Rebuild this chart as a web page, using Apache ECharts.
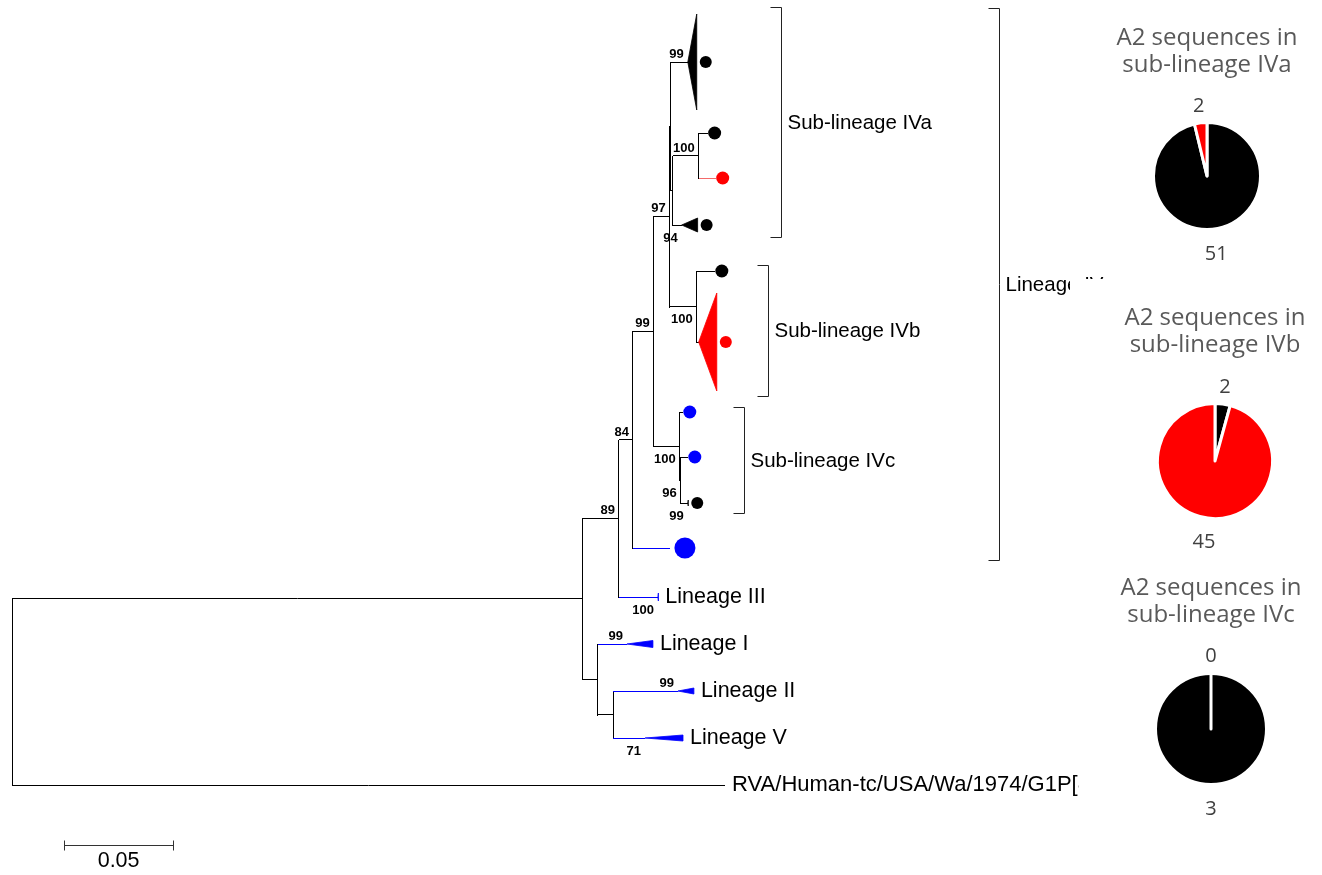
<!DOCTYPE html>
<html><head><meta charset="utf-8">
<script src="https://cdn.jsdelivr.net/npm/echarts@6/dist/echarts.min.js"></script>
<style>html,body{margin:0;padding:0;background:#fff}#c{width:1322px;height:875px}</style>
</head><body><div id="c"></div>
<script>
// ---------------- tree data (branch lengths in substitutions/site, tip rows) ----------------
// node index:      0     1      2      3      4      5      6      7      8      9      10     11     12     13     14     15     16     17     18     19     20     21     22     23     24     25     26     27     28
const nodeParent = [-1,    0,     0,     1,     3,     3,     5,     5,     7,     8,     8,     10,    10,    7,     13,    14,    14,    16,    17,    17,    16,    13,    21,    21,    1,     24,    24,    26,    26];
const branchLength=[0, 0.2619,0.3271,0.0165,0.0179,0.0064,0.0170,0.0096,0.0119,0.0014,0.0005,0.0032,0.0032,0.0073,0.0005,0.0078,0.0009,0.0119,0.0041,0.0078,0.0041,0.0124,0.0083,0.0009,0.0069,0.0133,0.0069,0.0298,0.0147];
const tipRow = {2:785, 4:597, 6:548, 9:412, 11:457, 12:503, 15:62, 18:133, 19:178, 20:225, 22:271, 23:342, 25:644, 27:691, 28:738};
const bootstrap = {3:89, 4:100, 5:84, 7:99, 8:100, 10:96, 12:99, 13:97, 15:99, 17:100, 20:94, 21:100, 25:99, 27:99, 28:71};
const bootBelow = [4, 8, 10, 12, 20, 21, 28];
const tipLabel = {2:'RVA/Human-tc/USA/Wa/1974/G1P[8]', 4:'Lineage III', 25:'Lineage I', 27:'Lineage II', 28:'Lineage V'};
// collapsed clades: depth (subst/site) and half height (rows)
const cladeDepth = {4:0.0002, 12:0.0002, 15:0.0041, 20:0.0073, 23:0.0083, 25:0.0119, 27:0.0073, 28:0.0174};
const cladeHalf  = {4:4, 12:3, 15:48, 20:7, 23:49, 25:3.5, 27:3, 28:3};
const branchColour = {4:'b', 6:'b', 25:'b', 27:'b', 28:'b', 19:'p'};
const cladeColour = {4:'b', 12:'k', 15:'k', 20:'k', 23:'r', 25:'b', 27:'b', 28:'b'};
const dotColour = {6:'b', 9:'b', 11:'b', 12:'k', 15:'k', 18:'k', 19:'r', 20:'k', 22:'k', 23:'r'};
const dotSize = {6:21, 9:13, 11:13, 12:12, 15:12, 18:13, 19:13, 20:12, 22:13, 23:12};
// annotation brackets
const bracketNames = ['Sub-lineage IVa', 'Sub-lineage IVb', 'Sub-lineage IVc', 'Lineage IV'];
const bracketX = [0.3532, 0.3468, 0.3362, 0.4532];
const bracketTop = [7, 265, 407, 8];
const bracketBottom = [237, 396, 513, 560];
const scaleBarValue = 0.05;
// ---------------- pie data ----------------
const pieNames = ['sub-lineage IVa', 'sub-lineage IVb', 'sub-lineage IVc'];
const pieBlack = [51, 2, 3];
const pieRed = [2, 45, 0];

const COL = {k:'#000000', b:'#0000ff', r:'#ff0000', p:'#f46a6a'};
const TEXTFONT = '"Liberation Sans", Arial, sans-serif';
const PIEFONT = '"Open Sans", sans-serif';

// ---------------- layout of tree ----------------
const N = nodeParent.length;
const nodeX = new Array(N).fill(0);
for (let i = 1; i < N; i++) nodeX[i] = nodeX[nodeParent[i]] + branchLength[i];
const children = Array.from({length: N}, () => []);
for (let i = 1; i < N; i++) children[nodeParent[i]].push(i);
const nodeY = new Array(N);
function yOf(i) {
  if (tipRow[i] != null) return (nodeY[i] = tipRow[i]);
  const ys = children[i].map(yOf);
  return (nodeY[i] = (Math.min(...ys) + Math.max(...ys)) / 2);
}
yOf(0);

const segs = [], segCol = [];
for (let i = 0; i < N; i++) {
  if (children[i].length) {
    const ys = children[i].map(c => nodeY[c]);
    segs.push([nodeX[i], Math.min(...ys), nodeX[i], Math.max(...ys)]);
    segCol.push('k');
  }
}
for (let i = 1; i < N; i++) {
  segs.push([nodeX[nodeParent[i]], nodeY[i], nodeX[i], nodeY[i]]);
  segCol.push(branchColour[i] || 'k');
}
const cladeIds = Object.keys(cladeDepth).map(Number);
const cladeData = cladeIds.map(i => [nodeX[i], nodeY[i], nodeX[i] + cladeDepth[i], cladeHalf[i]]);
const dotIds = Object.keys(dotColour).map(Number);
const dotData = dotIds.map(i => [nodeX[i] + (cladeDepth[i] || 0), nodeY[i]]);
const bootIds = Object.keys(bootstrap).map(Number);
const bootData = bootIds.map(i => [nodeX[i], nodeY[i]]);
const tipIds = Object.keys(tipLabel).map(Number);
const tipData = tipIds.map(i => [nodeX[i] + (cladeDepth[i] || 0), nodeY[i]]);
const bracketData = bracketX.map((x, k) => [x, bracketTop[k], bracketBottom[k]]);

const cr = v => Math.round(v - 0.5) + 0.5;

const chart = echarts.init(document.getElementById('c'), null, {renderer: 'canvas'});

const pieCenters = [[1207, 176], [1215, 461], [1211, 729]];
const pieRadius = [53.5, 57.5, 55.5];
const titleY = [52, 332, 602];

const pieSeries = pieNames.map((nm, k) => {
  const vals = [pieBlack[k], pieRed[k]];
  const big = vals[0] >= vals[1] ? 0 : 1;
  return {
    type: 'pie', name: nm, center: pieCenters[k], radius: pieRadius[k],
    startAngle: 90, clockwise: true, avoidLabelOverlap: false, silent: true, animation: false,
    minShowLabelAngle: 0, stillShowZeroSum: true, z: 4,
    itemStyle: {borderColor: '#ffffff', borderWidth: 3},
    label: {show: true, position: 'outside', formatter: '{c}', color: '#404040', fontSize: 20,
            fontFamily: PIEFONT, distanceToLabelLine: 0},
    labelLine: {show: false, length2: 0},
    labelLayout: {align: 'center'},
    data: vals.map((v, j) => ({
      value: v, name: j === 0 ? 'black' : 'red',
      itemStyle: {color: j === 0 ? '#000000' : '#ff0000'},
      labelLine: {show: false, length: j === big ? 25 : 17, length2: 0}
    }))
  };
});

const option = {
  animation: false,
  backgroundColor: '#ffffff',
  grid: {left: 12, top: 0, width: 1090, height: 875, show: false},
  xAxis: {type: 'value', min: 0, max: 0.5, show: false},
  yAxis: {type: 'value', min: 0, max: 875, inverse: true, show: false},
  graphic: {elements: [
    {type: 'rect', z: 10, shape: {x: 1070, y: 279, width: 60, height: 22}, style: {fill: '#ffffff'}},
    {type: 'rect', z: 10, shape: {x: 1079, y: 770, width: 60, height: 30}, style: {fill: '#ffffff'}}
  ].concat(pieNames.map((nm, k) => ({
    type: 'text', z: 12, x: pieCenters[k][0], y: titleY[k],
    style: {text: 'A2 sequences in\n' + nm, fill: '#595959', fontSize: 24, fontFamily: PIEFONT,
            lineHeight: 27, align: 'center', verticalAlign: 'middle'}
  })))},
  series: [
    { // branches
      type: 'custom', coordinateSystem: 'cartesian2d', silent: true, data: segs,
      renderItem(params, api) {
        const p1 = api.coord([api.value(0), api.value(1)]);
        const p2 = api.coord([api.value(2), api.value(3)]);
        let s;
        if (Math.abs(p1[0] - p2[0]) < 0.01) s = {x1: cr(p1[0]), y1: Math.round(p1[1]), x2: cr(p1[0]), y2: Math.round(p2[1]) + 1};
        else s = {x1: Math.round(p1[0]), y1: cr(p1[1]), x2: Math.round(p2[0]), y2: cr(p1[1])};
        return {type: 'line', shape: s, style: {stroke: COL[segCol[params.dataIndex]], lineWidth: 1}};
      }
    },
    { // collapsed clades
      type: 'custom', coordinateSystem: 'cartesian2d', silent: true, data: cladeData,
      renderItem(params, api) {
        const a = api.coord([api.value(0), api.value(1)]);
        const b = api.coord([api.value(2), api.value(1)]);
        const h = api.value(3);
        const c = COL[cladeColour[cladeIds[params.dataIndex]]];
        return {type: 'polygon', shape: {points: [[a[0], a[1]], [b[0], a[1] - h], [b[0], a[1] + h]]},
                style: {fill: c, stroke: c, lineWidth: 0.8}};
      }
    },
    { // dots
      type: 'custom', coordinateSystem: 'cartesian2d', silent: true, data: dotData,
      renderItem(params, api) {
        const id = dotIds[params.dataIndex];
        const p = api.coord([api.value(0), api.value(1)]);
        const sz = dotSize[id];
        const off = sz - 6 + (cladeDepth[id] != null ? 3 : 0);
        return {type: 'circle', shape: {cx: p[0] + off, cy: p[1], r: sz / 2}, style: {fill: COL[dotColour[id]]}};
      }
    },
    { // bootstrap values
      type: 'custom', coordinateSystem: 'cartesian2d', silent: true, data: bootData,
      renderItem(params, api) {
        const id = bootIds[params.dataIndex];
        const p = api.coord([api.value(0), api.value(1)]);
        const below = bootBelow.indexOf(id) >= 0;
        return {type: 'text', x: p[0] - 4, y: below ? p[1] + 6.5 : p[1] - 1,
                style: {text: String(bootstrap[id]), fill: '#000', fontSize: 13, fontWeight: 'bold', fontFamily: TEXTFONT,
                        align: 'right', verticalAlign: below ? 'top' : 'bottom'}};
      }
    },
    { // tip labels
      type: 'custom', coordinateSystem: 'cartesian2d', silent: true, data: tipData,
      renderItem(params, api) {
        const id = tipIds[params.dataIndex];
        const p = api.coord([api.value(0), api.value(1)]);
        return {type: 'text', x: p[0] + 7, y: p[1],
                style: {text: tipLabel[id], fill: '#000', fontSize: id === 2 ? 22 : 21.5, fontFamily: TEXTFONT, align: 'left', verticalAlign: 'middle'}};
      }
    },
    { // brackets
      type: 'custom', coordinateSystem: 'cartesian2d', silent: true, data: bracketData,
      renderItem(params, api) {
        const t = api.coord([api.value(0), api.value(1)]);
        const b = api.coord([api.value(0), api.value(2)]);
        const x = cr(t[0]);
        return {type: 'group', children: [
          {type: 'polyline', shape: {points: [[x - 11, cr(t[1])], [x, cr(t[1])], [x, cr(b[1])], [x - 11, cr(b[1])]]},
           style: {stroke: '#222', lineWidth: 1, fill: null}},
          {type: 'text', x: x + 6, y: (t[1] + b[1]) / 2 + 1,
           style: {text: bracketNames[params.dataIndex], fill: '#000', fontSize: 20.5, fontFamily: TEXTFONT, align: 'left', verticalAlign: 'middle'}}
        ]};
      }
    },
    { // scale bar
      type: 'custom', coordinateSystem: 'cartesian2d', silent: true, data: [[0.0239, 845, scaleBarValue]],
      renderItem(params, api) {
        const a = api.coord([api.value(0), api.value(1)]);
        const b = api.coord([api.value(0) + api.value(2), api.value(1)]);
        const y = cr(a[1]);
        return {type: 'group', children: [
          {type: 'line', shape: {x1: a[0], y1: y, x2: b[0], y2: y}, style: {stroke: '#333', lineWidth: 1}},
          {type: 'line', shape: {x1: cr(a[0]), y1: y - 5, x2: cr(a[0]), y2: y + 5}, style: {stroke: '#333', lineWidth: 1}},
          {type: 'line', shape: {x1: cr(b[0]), y1: y - 5, x2: cr(b[0]), y2: y + 5}, style: {stroke: '#333', lineWidth: 1}},
          {type: 'text', x: (a[0] + b[0]) / 2, y: y + 5,
           style: {text: String(api.value(2)), fill: '#000', fontSize: 21.5, fontFamily: TEXTFONT, align: 'center', verticalAlign: 'top'}}
        ]};
      }
    }
  ].concat(pieSeries)
};
chart.setOption(option);
</script>
</body></html>
